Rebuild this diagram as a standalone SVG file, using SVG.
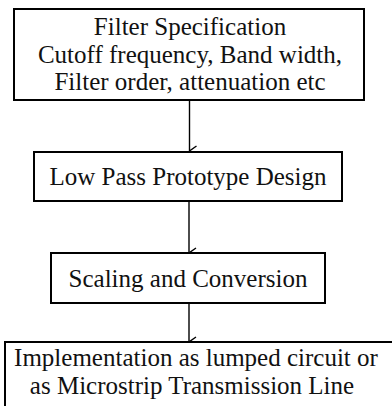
<svg xmlns="http://www.w3.org/2000/svg" width="392" height="406" viewBox="0 0 392 406">
<style>
.box{fill:#fff;stroke:#000;stroke-width:2}
.c{stroke:#000;stroke-width:1.4;fill:none}
</style>
<defs>
<marker id="ah" viewBox="0 0 12 10" refX="6" refY="9" markerWidth="12" markerHeight="10" markerUnits="userSpaceOnUse" orient="auto-start-reverse">
<path d="M1,2 L6,9 L11,2" fill="none" stroke="#000" stroke-width="1.4"/>
</marker>
</defs>
<rect width="392" height="406" fill="#fff"/>
<g id="connectors">
<line class="c" x1="189.5" y1="100" x2="189.5" y2="151" marker-end="url(#ah)"/>
<line class="c" x1="189" y1="201" x2="189" y2="253" marker-end="url(#ah)"/>
<line class="c" x1="189" y1="303" x2="189" y2="342" marker-end="url(#ah)"/>
</g>
<g font-family="Liberation Serif" font-size="25" fill="#111" text-anchor="middle">
<g id="node1">
<rect class="box" x="14" y="9" width="350" height="91"/>
<text x="190" y="35">Filter Specification</text>
<text x="190" y="63">Cutoff frequency, Band width,</text>
<text x="190" y="90">Filter order, attenuation etc</text>
</g>
<g id="node2">
<rect class="box" x="34" y="152" width="308" height="49"/>
<text x="188" y="185">Low Pass Prototype Design</text>
</g>
<g id="node3">
<rect class="box" x="51" y="253" width="274" height="50"/>
<text x="188" y="287">Scaling and Conversion</text>
</g>
<g id="node4">
<rect class="box" x="5" y="342" width="400" height="80"/>
<text x="196" y="366">Implementation as lumped circuit or</text>
<text x="192" y="394">as Microstrip Transmission Line</text>
</g>
</g>
</svg>
